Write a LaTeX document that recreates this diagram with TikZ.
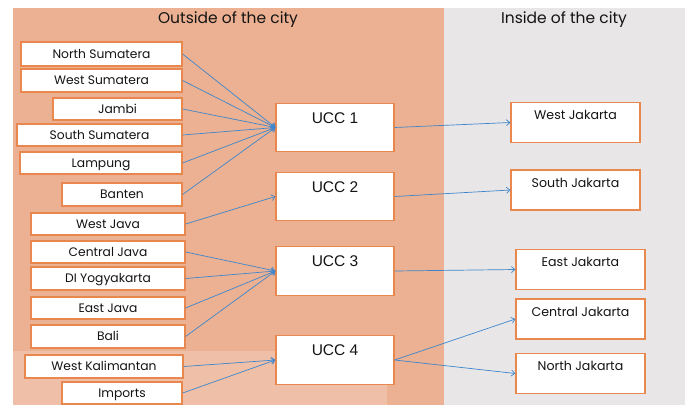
\documentclass[tikz,border=0pt]{standalone}
\usepackage{fontspec}
\setmainfont{Poppins}
\newfontfamily\uccfont{Liberation Sans}
\usetikzlibrary{arrows.meta}
\definecolor{bgorange}{HTML}{EBB192}
\definecolor{bggray}{HTML}{E8E6E7}
\definecolor{boxorange}{HTML}{E8874E}
\definecolor{arrblue}{HTML}{3E86CC}
\definecolor{txt}{HTML}{141414}
\begin{document}
\begin{tikzpicture}[x=1pt,y=-1pt,
  title/.style={font=\fontsize{15.5}{17}\selectfont, text=txt, inner sep=0},
  lbox/.style={draw=boxorange, fill=white, line width=1.2pt, inner sep=0,
    font=\fontsize{12.3}{14}\selectfont, text=txt, text height=8.6pt, text depth=0pt},
  uccbox/.style={draw=boxorange, fill=white, line width=1.2pt, inner sep=0,
    minimum width=118pt, font=\uccfont\fontsize{15.5}{17}\selectfont, text=txt,
    text height=20pt, text depth=28.5pt},
  rbox/.style={draw=boxorange, fill=white, line width=1.2pt, inner sep=0,
    minimum width=129pt, font=\fontsize{12.6}{14}\selectfont, text=txt,
    text height=17pt, text depth=23pt},
  arr/.style={draw=arrblue, line width=0.7pt, -{Straight Barb[length=3.5pt,width=6pt]}}
]
\useasboundingbox (0,0) rectangle (688,405);
\fill[white] (0,0) rectangle (688,405);
\fill[bgorange] (13,8) rectangle (444,405);
\fill[bggray] (444,8) rectangle (685,405);
\fill[white, opacity=0.2] (13,351) rectangle (387,405);

\node[title] (tout) at (228,20) {Outside of the city};
\node[title] (tin) at (564,20) {Inside of the city};

% left boxes
\node[lbox, minimum width=161pt, minimum height=24pt] (ns) at (101.5,54) {North Sumatera};
\node[lbox, minimum width=161pt, minimum height=23pt] (ws) at (101.5,80.5) {West Sumatera};
\node[lbox, minimum width=129pt, minimum height=22pt] (jb) at (117.5,109) {Jambi};
\node[lbox, minimum width=165pt, minimum height=22pt] (ss) at (99.5,135) {South Sumatera};
\node[lbox, minimum width=162pt, minimum height=22pt] (lp) at (101,163) {Lampung};
\node[lbox, minimum width=120pt, minimum height=23pt] (bt) at (122,194.5) {Banten};
\node[lbox, minimum width=154pt, minimum height=22pt] (wj) at (108,224) {West Java};
\node[lbox, minimum width=154pt, minimum height=22pt] (cj) at (108,252) {Central Java};
\node[lbox, minimum width=154pt, minimum height=23pt] (dy) at (108,278.5) {DI Yogyakarta};
\node[lbox, minimum width=154pt, minimum height=22pt] (ej) at (108,308) {East Java};
\node[lbox, minimum width=154pt, minimum height=23pt] (bl) at (108,336.5) {Bali};
\node[lbox, minimum width=158pt, minimum height=23pt] (wk) at (104,366.5) {West Kalimantan};
\node[lbox, minimum width=120pt, minimum height=22pt] (im) at (122,393) {Imports};

% UCC boxes
\node[uccbox] (u1) at (335,127.5) {UCC 1};
\node[uccbox] (u2) at (335,196.5) {UCC 2};
\node[uccbox] (u3) at (335,271) {UCC 3};
\node[uccbox] (u4) at (335,360) {UCC 4};

% right boxes
\node[rbox] (wjk) at (575.5,122.5) {West Jakarta};
\node[rbox] (sjk) at (575.5,190) {South Jakarta};
\node[rbox] (ejk) at (580.5,269.5) {East Jakarta};
\node[rbox] (cjk) at (580.5,319) {Central Jakarta};
\node[rbox] (njk) at (580.5,373.5) {North Jakarta};

% arrows to UCC
\foreach \s in {ns,ws,jb,ss,lp,bt} \draw[arr] (\s.east) -- (u1.west);
\draw[arr] (wj.east) -- (u2.west);
\foreach \s in {cj,dy,ej,bl} \draw[arr] (\s.east) -- (u3.west);
\foreach \s in {wk,im} \draw[arr] (\s.east) -- (u4.west);

% arrows to districts
\draw[arr] (u1.east) -- (wjk.west);
\draw[arr] (u2.east) -- (sjk.west);
\draw[arr] (u3.east) -- (ejk.west);
\draw[arr] (u4.east) -- (cjk.west);
\draw[arr] (u4.east) -- (njk.west);
\end{tikzpicture}
\end{document}
